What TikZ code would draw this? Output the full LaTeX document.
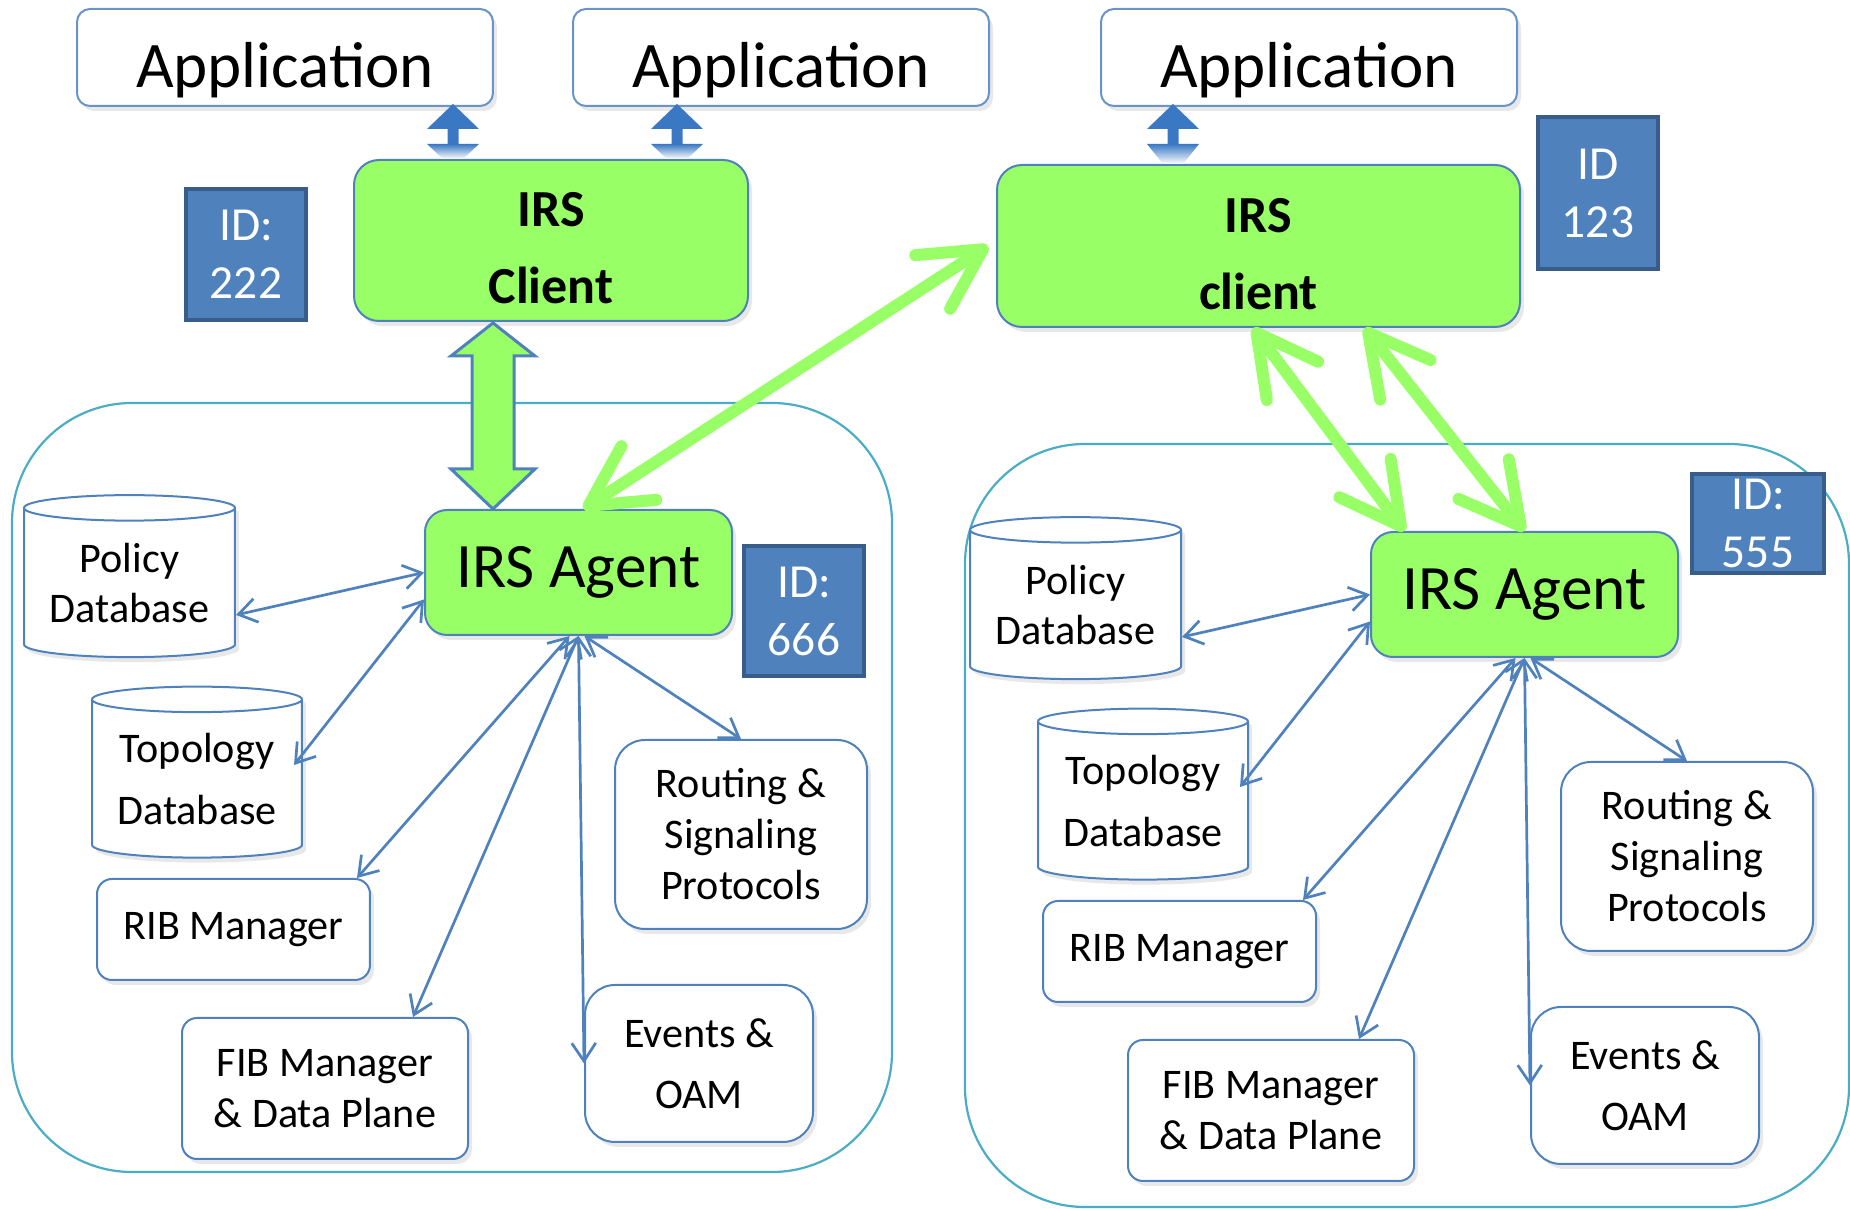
\documentclass[tikz,border=0pt]{standalone}
\usepackage{fontspec}
\setmainfont{Carlito}
\usetikzlibrary{arrows.meta,calc,shapes.geometric,shadows}
\definecolor{irsgreen}{HTML}{99FF66}
\definecolor{boxblue}{HTML}{4F81BD}
\definecolor{idedge}{HTML}{385D8A}
\definecolor{domline}{HTML}{4BACC6}
\definecolor{tipblue}{HTML}{3A78C4}
\tikzset{soft/.style={drop shadow={shadow xshift=0.4mm,shadow yshift=-0.5mm,opacity=0.18}},app/.style={draw=boxblue!85,line width=0.2mm,rounded corners=1.3mm,fill=white,soft,minimum width=41.6mm,minimum height=9.7mm,inner sep=0pt,text height=7.3mm,text depth=1.3mm,font=\fontsize{18.5}{20}\selectfont},client/.style={draw=boxblue,line width=0.2mm,fill=irsgreen,rounded corners=2.5mm,soft,align=center,inner sep=0pt,font=\bfseries\fontsize{14.8}{21.8}\selectfont},agent/.style={draw=boxblue,line width=0.2mm,fill=irsgreen,rounded corners=2.2mm,soft,minimum width=30.7mm,minimum height=12.5mm,inner sep=0pt,font=\fontsize{18}{20}\selectfont},idbox/.style={draw=idedge,line width=0.4mm,fill=boxblue,text=white,align=center,inner sep=0pt,font=\fontsize{13.5}{16.5}\selectfont},db/.style={cylinder,shape border rotate=90,aspect=0.16,draw=boxblue,line width=0.2mm,fill=white,soft,align=center,inner sep=0pt,font=\fontsize{12}{14.5}\selectfont},part/.style={draw=boxblue,line width=0.2mm,fill=white,rounded corners=1.5mm,soft,align=center,inner sep=0pt,font=\fontsize{12}{14.5}\selectfont},link/.style={draw=boxblue,line width=0.27mm,<->,>={Straight Barb[length=1.8mm,width=2.4mm]}},greenlink/.style={draw=irsgreen,line width=1.2mm,line cap=round,<->,>={Straight Barb[length=6mm,width=6.4mm,round]}},blockarrow/.style={fill=irsgreen,draw=boxblue,line width=0.3mm},netzone/.style={draw=domline,line width=0.22mm,rounded corners=12mm}}
\begin{document}
\begin{tikzpicture}[x=0.1mm,y=-0.1mm]
\useasboundingbox (0,0) rectangle (1850,1209);
% two routing domains
\draw[netzone] (12,403) rectangle (892,1172);
\draw[netzone] (965,444) rectangle (1849,1207);
% applications, clients, IDs
\node[app] (app1) at (285,57.5) {Application};
\node[app] (app2) at (781,57.5) {Application};
\node[app] (app3) at (1309,57.5) {Application};
\node[client,minimum width=39.4mm,minimum height=16.1mm] (LC) at (551,240.5) {\rule{0pt}{5mm}IRS\\Client};
\node[client,minimum width=52.3mm,minimum height=16.2mm] (RC) at (1258.5,246) {\rule{0pt}{5mm}IRS\\client};
\node[idbox,minimum width=12mm,minimum height=13.1mm] (id222) at (246,254.5) {ID:\\222};
\node[idbox,minimum width=12mm,minimum height=15.2mm] (id123) at (1598,193) {ID\\123};
\node[idbox,minimum width=12mm,minimum height=13mm] (id666) at (804,611) {ID:\\666};
\node[idbox,minimum width=13.2mm,minimum height=9.9mm] (id555) at (1758,523.5) {ID:\\555};
% client to application
\foreach \s/\dx/\dy in {LC/-98/-55,LC/126/-55,RC/-85.5/-60}{
\fill[tipblue] ($(\s.north)+(\dx,\dy)$) -- ++(26,25) -- ++(-20.5,0) -- ++(0,15) -- ++(-11,0) -- ++(0,-15) -- ++(-20.5,0) -- cycle;
\shade[top color=tipblue,bottom color=white] ($(\s.north)+(\dx-26,\dy+40)$) -- ++(52,0) -- ($(\s.north)+(\dx+10,0)$) -- ($(\s.north)+(\dx-10,0)$) -- cycle;
}
% agents and their parts
\foreach \c/\dx/\dy in {L/0/0,R/946/22}{
\begin{scope}[shift={(\dx,\dy)}]
\node[agent] (\c-ag) at (578.5,572.5) {IRS Agent};
\node[db,minimum width=21.1mm,minimum height=16.2mm] (\c-pol) at (129.5,583) {Policy\\Database};
\node[db,minimum width=21mm,minimum height=17.1mm,font=\fontsize{12}{17.8}\selectfont] (\c-top) at (197,779) {Topology\\Database};
\node[part,minimum width=27.3mm,minimum height=10.1mm] (\c-rib) at (233.5,929.5) {RIB Manager};
\node[part,minimum width=28.6mm,minimum height=14.1mm] (\c-fib) at (325,1088.5) {FIB Manager\\\& Data Plane};
\node[part,rounded corners=3mm,minimum width=22.8mm,minimum height=15.7mm,font=\fontsize{12}{17.5}\selectfont] (\c-evt) at (699,1063.5) {Events \&\\OAM};
\node[part,rounded corners=3mm,minimum width=25.2mm,minimum height=18.9mm] (\c-rout) at (741,834.5) {Routing \&\\Signaling\\Protocols};
\end{scope}
\draw[link] (\c-ag.west) -- ([yshift=-3.2mm]\c-pol.east);
\draw[link] ([yshift=-2.7mm]\c-ag.west) -- ([xshift=-0.9mm,yshift=1.4mm]\c-top.east);
\draw[link] ([xshift=-0.9mm]\c-ag.south) -- ([xshift=-1.4mm]\c-rib.north east);
\draw[link] (\c-ag.south) -- ([xshift=8.8mm]\c-fib.north);
\draw[link] (\c-ag.south) -- (\c-evt.west);
\draw[link] ([xshift=0.6mm]\c-ag.south) -- (\c-rout.north);
}
% client to agent
\draw[blockarrow] ($(LC.south)+(-58,1)$) coordinate (bt) -- ++(42,33) -- ++(-21,0) -- ++(0,113) -- ++(21,0) -- ++(-42,40) -- ++(-42,-40) -- ++(21,0) -- ++(0,-113) -- ++(-21,0) -- cycle;
\draw[greenlink] ([xshift=0.5mm]L-ag.north) -- ([xshift=-0.8mm]RC.west);
\draw[greenlink] ([xshift=-0.55mm]RC.south) -- ([xshift=-12mm]R-ag.north);
\draw[greenlink] ([xshift=10.6mm]RC.south) -- (R-ag.north);
\end{tikzpicture}
\end{document}
